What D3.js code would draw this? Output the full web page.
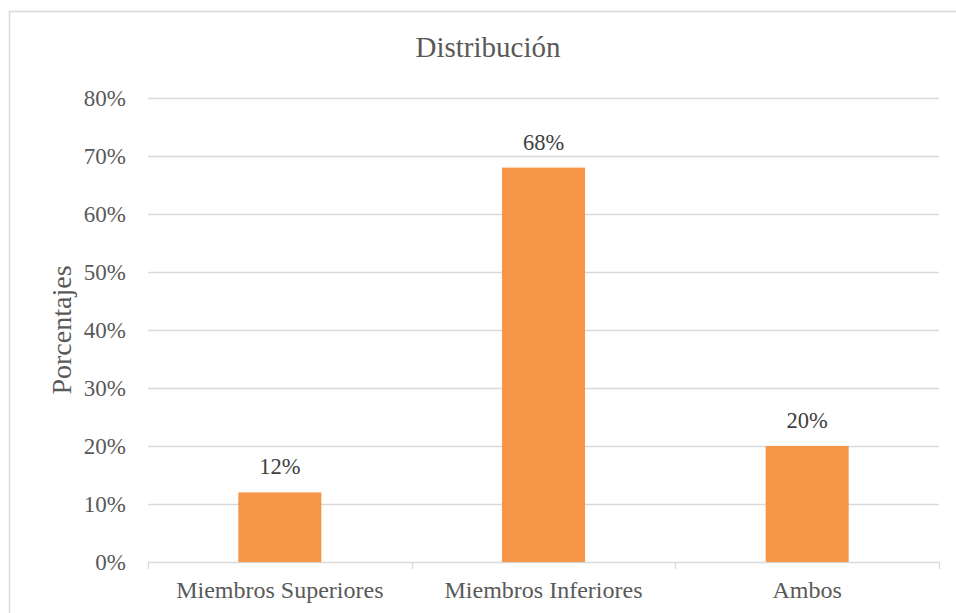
<!DOCTYPE html>
<html>
<head>
<meta charset="utf-8">
<script src="https://cdn.jsdelivr.net/npm/d3@7"></script>
<style>
  html, body { margin: 0; padding: 0; background: #fff; }
  svg { display: block; }
  text { font-family: "Liberation Serif", "Times New Roman", serif; fill: #595959; }
</style>
</head>
<body>
<svg id="chart" width="956" height="613"></svg>
<script>
// Distribution of cases by affected limbs
const categories = ["Miembros Superiores", "Miembros Inferiores", "Ambos"];
const values = [0.12, 0.68, 0.20];
const yTicks = [0, 0.1, 0.2, 0.3, 0.4, 0.5, 0.6, 0.7, 0.8];
const title = "Distribución";
const yTitle = "Porcentajes";

const serif = "'Liberation Serif', 'Times New Roman', serif";
const svg = d3.select("#chart");

// outer chart frame (runs past the right and bottom edges)
svg.append("rect")
  .attr("x", 9.5).attr("y", 11.5)
  .attr("width", 960).attr("height", 620)
  .attr("fill", "#fff")
  .attr("stroke", "#d9d9d9").attr("stroke-width", 1.5);

const plot = { left: 148, right: 939, top: 98, bottom: 562 };

const x = d3.scaleBand()
  .domain(categories)
  .range([plot.left, plot.right])
  .padding(0);

const y = d3.scaleLinear()
  .domain([0, 0.8])
  .range([plot.bottom, plot.top]);

const pct = d3.format(".0%");

// horizontal gridlines
svg.append("g")
  .selectAll("line")
  .data(yTicks)
  .join("line")
  .attr("x1", plot.left).attr("x2", plot.right)
  .attr("y1", d => Math.round(y(d)) + 0.5)
  .attr("y2", d => Math.round(y(d)) + 0.5)
  .attr("stroke", "#d9d9d9").attr("stroke-width", 1.3);

// y tick labels
svg.append("g")
  .selectAll("text")
  .data(yTicks)
  .join("text")
  .attr("x", 126)
  .attr("y", d => y(d))
  .attr("dy", "0.36em")
  .attr("text-anchor", "end")
  .style("font-family", serif)
  .style("font-size", "23px")
  .text(d => pct(d));

// category axis with tick marks at band boundaries
const xAxis = d3.axisBottom(x).tickSize(0).tickFormat(d => d);
const gx = svg.append("g")
  .attr("transform", `translate(0,${plot.bottom})`)
  .attr("font-family", null)
  .call(xAxis);
gx.attr("font-family", null).attr("font-size", null);
gx.select(".domain").remove();
gx.selectAll(".tick text")
  .attr("y", 36)
  .attr("dy", 0)
  .attr("fill", "#595959")
  .style("font-family", serif)
  .style("font-size", "24px");

const boundaries = categories.map(c => x(c)).concat([x.range()[1]]);
svg.append("g")
  .selectAll("line")
  .data(boundaries)
  .join("line")
  .attr("x1", d => Math.round(d) + 0.5).attr("x2", d => Math.round(d) + 0.5)
  .attr("y1", plot.bottom).attr("y2", plot.bottom + 7)
  .attr("stroke", "#d9d9d9").attr("stroke-width", 1.3);

// bars
const barW = x.bandwidth() * 0.315;
svg.append("g")
  .selectAll("rect")
  .data(categories.map((c, i) => ({ c, v: values[i] })))
  .join("rect")
  .attr("x", d => x(d.c) + x.bandwidth() / 2 - barW / 2)
  .attr("y", d => y(d.v))
  .attr("width", barW)
  .attr("height", d => y(0) - y(d.v))
  .attr("fill", "#f79646");

// value labels
svg.append("g")
  .selectAll("text")
  .data(categories.map((c, i) => ({ c, v: values[i] })))
  .join("text")
  .attr("x", d => x(d.c) + x.bandwidth() / 2)
  .attr("y", d => y(d.v) - 18)
  .attr("text-anchor", "middle")
  .style("font-family", serif)
  .style("font-size", "22.5px")
  .style("fill", "#404040")
  .text(d => pct(d.v));

// chart title
svg.append("text")
  .attr("x", 488).attr("y", 57)
  .attr("text-anchor", "middle")
  .style("font-family", serif)
  .style("font-size", "29px")
  .text(title);

// y axis title
svg.append("text")
  .attr("transform", `translate(71,${(plot.top + plot.bottom) / 2}) rotate(-90)`)
  .attr("text-anchor", "middle")
  .style("font-family", serif)
  .style("font-size", "28px")
  .text(yTitle);
</script>
</body>
</html>
